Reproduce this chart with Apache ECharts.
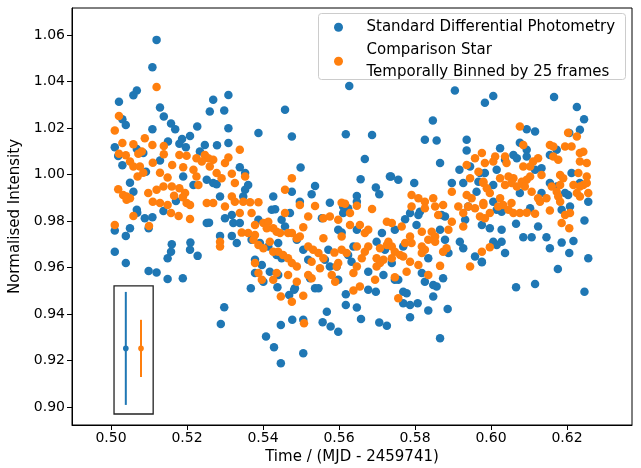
<!DOCTYPE html>
<html><head><meta charset="utf-8">
<script src="https://cdn.jsdelivr.net/npm/echarts@6/dist/echarts.min.js"></script>
<style>html,body{margin:0;padding:0;background:#fff}#c{width:641px;height:468px}</style>
</head><body><div id="c"></div>
<script>
// [time (MJD - 2459741), normalised intensity]
const bluePoints = [
[0.5120,1.0579],[0.5109,1.0461],[0.5068,1.0361],[0.5059,1.0341],[0.5021,1.0313],[0.5129,1.0288],[0.5139,1.0249],[0.5030,1.0238],
[0.5039,1.0213],[0.5158,1.0219],[0.5169,1.0195],[0.5109,1.0195],[0.5227,1.0206],[0.5208,1.0166],[0.5187,1.0153],[0.5180,1.0132],
[0.5150,1.0142],[0.5010,1.0117],[0.5068,1.0110],[0.5197,1.0117],[0.5019,1.0080],[0.5030,1.0040],[0.5129,1.0060],[0.5085,1.0092],
[0.5092,1.0012],[0.5190,0.9991],[0.5050,0.9965],[0.5059,0.9926],[0.5217,0.9955],[0.5171,0.9886],[0.5068,0.9848],[0.5069,0.9836],
[0.5089,0.9812],[0.5109,0.9816],[0.5138,0.9843],[0.5010,0.9759],[0.5050,0.9769],[0.5039,0.9736],[0.5099,0.9769],[0.5160,0.9700],
[0.5209,0.9707],[0.5158,0.9668],[0.5149,0.9640],[0.5208,0.9676],[0.5228,0.9650],[0.5010,0.9668],[0.5039,0.9619],[0.5099,0.9585],
[0.5120,0.9578],[0.5149,0.9551],[0.5189,0.9554],[0.5309,1.0342],[0.5269,1.0321],[0.5260,1.0271],[0.5298,1.0275],[0.5458,1.0278],
[0.5309,1.0199],[0.5388,1.0178],[0.5476,1.0163],[0.5247,1.0127],[0.5279,1.0126],[0.5309,1.0135],[0.5234,1.0099],[0.5339,1.0031],
[0.5353,1.0006],[0.5361,0.9955],[0.5353,0.9934],[0.5269,0.9963],[0.5278,0.9958],[0.5287,0.9905],[0.5427,0.9905],[0.5476,0.9926],
[0.5348,0.9905],[0.5252,0.9977],[0.5252,0.9791],[0.5258,0.9793],[0.5300,0.9812],[0.5318,0.9826],[0.5322,0.9791],[0.5339,0.9791],
[0.5287,0.9736],[0.5318,0.9736],[0.5331,0.9705],[0.5370,0.9719],[0.5388,0.9805],[0.5423,0.9848],[0.5432,0.9851],[0.5449,0.9805],
[0.5458,0.9776],[0.5471,0.9834],[0.5392,0.9705],[0.5414,0.9690],[0.5440,0.9705],[0.5436,0.9654],[0.5449,0.9640],[0.5379,0.9633],
[0.5397,0.9611],[0.5379,0.9576],[0.5418,0.9582],[0.5440,0.9568],[0.5401,0.9539],[0.5368,0.9511],[0.5438,0.9515],[0.5469,0.9482],
[0.5482,0.9504],[0.5298,0.9429],[0.5289,0.9357],[0.5447,0.9353],[0.5477,0.9375],[0.5408,0.9303],[0.5429,0.9257],[0.5447,0.9188],
[0.5627,1.0381],[0.5618,1.0173],[0.5687,1.0170],[0.5668,1.0067],[0.5499,1.0030],[0.5657,0.9980],[0.5734,0.9991],[0.5537,0.9951],
[0.5528,0.9915],[0.5697,0.9944],[0.5706,0.9915],[0.5647,0.9908],[0.5576,0.9879],[0.5497,0.9883],[0.5611,0.9862],[0.5624,0.9855],
[0.5647,0.9883],[0.5611,0.9834],[0.5555,0.9812],[0.5598,0.9762],[0.5607,0.9750],[0.5647,0.9762],[0.5713,0.9748],[0.5489,0.9719],
[0.5506,0.9676],[0.5519,0.9633],[0.5572,0.9676],[0.5563,0.9633],[0.5576,0.9604],[0.5594,0.9604],[0.5598,0.9547],[0.5638,0.9690],
[0.5624,0.9654],[0.5633,0.9625],[0.5699,0.9711],[0.5717,0.9568],[0.5677,0.9582],[0.5677,0.9504],[0.5697,0.9496],[0.5524,0.9554],
[0.5537,0.9511],[0.5546,0.9511],[0.5484,0.9511],[0.5618,0.9485],[0.5618,0.9439],[0.5647,0.9428],[0.5568,0.9410],[0.5658,0.9378],
[0.5506,0.9375],[0.5557,0.9365],[0.5578,0.9346],[0.5598,0.9324],[0.5706,0.9363],[0.5726,0.9349],[0.5506,0.9231],[0.5905,1.0361],
[0.5984,1.0309],[0.5847,1.0232],[0.5826,1.0149],[0.5857,1.0146],[0.5936,1.0149],[0.5936,1.0103],[0.5866,1.0049],[0.5917,1.0020],
[0.5945,1.0034],[0.5737,0.9991],[0.5756,0.9977],[0.5798,0.9963],[0.5897,0.9963],[0.5927,0.9963],[0.5962,0.9926],[0.5967,0.9969],
[0.5984,1.0006],[0.5787,0.9834],[0.5809,0.9826],[0.5813,0.9840],[0.5804,0.9783],[0.5774,0.9808],[0.5747,0.9762],[0.5870,0.9826],
[0.5879,0.9819],[0.5940,0.9862],[0.5932,0.9805],[0.5976,0.9783],[0.5866,0.9762],[0.5879,0.9719],[0.5888,0.9662],[0.5918,0.9711],
[0.5927,0.9683],[0.5958,0.9647],[0.5976,0.9625],[0.5721,0.9676],[0.5739,0.9619],[0.5769,0.9690],[0.5835,0.9640],[0.5818,0.9576],
[0.5826,0.9539],[0.5848,0.9525],[0.5857,0.9518],[0.5747,0.9547],[0.5756,0.9547],[0.5874,0.9554],[0.5769,0.9496],[0.5778,0.9489],
[0.5848,0.9475],[0.5769,0.9446],[0.5787,0.9439],[0.5807,0.9446],[0.5835,0.9415],[0.5886,0.9421],[0.5787,0.9386],[0.5866,0.9296],
[0.6006,1.0338],[0.6166,1.0333],[0.6226,1.0290],[0.6245,1.0238],[0.6094,1.0195],[0.6116,1.0185],[0.6234,1.0192],[0.6206,1.0178],
[0.6076,1.0137],[0.6094,1.0106],[0.6094,1.0077],[0.6024,1.0113],[0.6059,1.0084],[0.6068,1.0070],[0.6037,1.0063],[0.6173,1.0106],
[0.6155,1.0084],[0.5971,1.0006],[0.6015,1.0020],[0.6116,1.0020],[0.6133,1.0027],[0.6212,1.0006],[0.6006,0.9955],[0.6076,0.9920],
[0.6155,0.9963],[0.6173,0.9948],[0.6195,0.9920],[0.6203,0.9912],[0.6234,0.9963],[0.6256,0.9883],[0.6133,0.9920],[0.6103,0.9855],
[0.6208,0.9862],[0.6006,0.9883],[0.6015,0.9848],[0.6028,0.9840],[0.5997,0.9769],[0.6028,0.9762],[0.6066,0.9788],[0.6124,0.9776],
[0.6186,0.9848],[0.6006,0.9711],[0.6015,0.9697],[0.6028,0.9711],[0.6037,0.9662],[0.6085,0.9730],[0.6107,0.9730],[0.6146,0.9730],
[0.6155,0.9683],[0.6186,0.9707],[0.6217,0.9714],[0.6206,0.9662],[0.6246,0.9802],[0.6256,0.9640],[0.5976,0.9623],[0.6176,0.9594],
[0.6066,0.9515],[0.6116,0.9529],[0.6246,0.9496]
];
const orangePoints = [
[0.5120,1.0376],[0.5021,1.0252],[0.5010,1.0189],[0.5030,1.0135],[0.5089,1.0156],[0.5059,1.0130],[0.5109,1.0127],[0.5139,1.0123],
[0.5139,1.0087],[0.5081,1.0099],[0.5072,1.0089],[0.5021,1.0089],[0.5039,1.0083],[0.5180,1.0084],[0.5199,1.0081],[0.5225,1.0070],
[0.5050,1.0056],[0.5059,1.0034],[0.5076,1.0034],[0.5110,1.0051],[0.5161,1.0041],[0.5190,1.0031],[0.5085,1.0008],[0.5129,1.0008],
[0.5070,0.9991],[0.5217,1.0020],[0.5225,0.9991],[0.5149,0.9987],[0.5019,0.9937],[0.5032,0.9912],[0.5041,0.9905],[0.5050,0.9898],
[0.5098,0.9920],[0.5120,0.9934],[0.5138,0.9948],[0.5160,0.9948],[0.5180,0.9941],[0.5166,0.9909],[0.5195,0.9920],[0.5189,0.9902],
[0.5110,0.9883],[0.5129,0.9877],[0.5149,0.9869],[0.5199,0.9877],[0.5208,0.9869],[0.5041,0.9891],[0.5059,0.9822],[0.5158,0.9834],
[0.5178,0.9822],[0.5208,0.9809],[0.5010,0.9783],[0.5100,0.9779],[0.5339,1.0106],[0.5247,1.0084],[0.5256,1.0070],[0.5269,1.0063],
[0.5239,1.0056],[0.5309,1.0073],[0.5300,1.0049],[0.5260,1.0034],[0.5278,1.0006],[0.5291,0.9984],[0.5318,1.0003],[0.5326,0.9963],
[0.5353,0.9991],[0.5230,0.9955],[0.5476,0.9984],[0.5458,0.9934],[0.5318,0.9905],[0.5326,0.9883],[0.5348,0.9883],[0.5366,0.9881],
[0.5388,0.9881],[0.5252,0.9877],[0.5269,0.9877],[0.5300,0.9862],[0.5339,0.9834],[0.5370,0.9834],[0.5458,0.9834],[0.5287,0.9711],
[0.5287,0.9690],[0.5344,0.9750],[0.5361,0.9748],[0.5379,0.9740],[0.5375,0.9719],[0.5379,0.9783],[0.5401,0.9791],[0.5414,0.9797],
[0.5410,0.9769],[0.5427,0.9769],[0.5436,0.9754],[0.5445,0.9748],[0.5466,0.9748],[0.5388,0.9697],[0.5401,0.9683],[0.5418,0.9711],
[0.5427,0.9668],[0.5440,0.9668],[0.5453,0.9654],[0.5466,0.9640],[0.5379,0.9619],[0.5388,0.9576],[0.5397,0.9547],[0.5427,0.9547],
[0.5436,0.9576],[0.5466,0.9568],[0.5447,0.9475],[0.5476,0.9453],[0.5476,0.9619],[0.5497,0.9869],[0.5537,0.9865],[0.5607,0.9879],
[0.5616,0.9874],[0.5647,0.9866],[0.5687,0.9852],[0.5629,0.9834],[0.5519,0.9819],[0.5559,0.9812],[0.5576,0.9819],[0.5598,0.9805],
[0.5629,0.9783],[0.5655,0.9783],[0.5506,0.9773],[0.5476,0.9748],[0.5489,0.9726],[0.5497,0.9733],[0.5559,0.9726],[0.5607,0.9733],
[0.5668,0.9748],[0.5677,0.9762],[0.5726,0.9797],[0.5519,0.9690],[0.5532,0.9676],[0.5546,0.9662],[0.5559,0.9640],[0.5528,0.9625],
[0.5588,0.9664],[0.5607,0.9676],[0.5620,0.9662],[0.5489,0.9604],[0.5550,0.9597],[0.5598,0.9619],[0.5594,0.9604],[0.5647,0.9690],
[0.5660,0.9640],[0.5668,0.9668],[0.5677,0.9690],[0.5647,0.9604],[0.5699,0.9640],[0.5708,0.9619],[0.5717,0.9633],[0.5699,0.9604],
[0.5708,0.9683],[0.5726,0.9697],[0.5519,0.9568],[0.5528,0.9554],[0.5581,0.9568],[0.5590,0.9539],[0.5489,0.9539],[0.5638,0.9576],
[0.5695,0.9547],[0.5655,0.9518],[0.5638,0.9501],[0.5506,0.9478],[0.5508,0.9360],[0.5958,1.0070],[0.5976,1.0092],[0.5936,1.0041],
[0.5967,1.0012],[0.5945,0.9984],[0.5980,0.9969],[0.5897,0.9926],[0.5936,0.9912],[0.5949,0.9898],[0.5809,0.9898],[0.5826,0.9883],
[0.5848,0.9898],[0.5874,0.9869],[0.5791,0.9862],[0.5914,0.9862],[0.5940,0.9862],[0.5791,0.9912],[0.5826,0.9855],[0.5853,0.9862],
[0.5861,0.9826],[0.5927,0.9834],[0.5958,0.9855],[0.5980,0.9869],[0.5739,0.9791],[0.5765,0.9776],[0.5897,0.9797],[0.5927,0.9776],
[0.5888,0.9762],[0.5818,0.9754],[0.5844,0.9754],[0.5853,0.9733],[0.5835,0.9719],[0.5853,0.9711],[0.5787,0.9733],[0.5774,0.9705],
[0.5791,0.9705],[0.5730,0.9711],[0.5739,0.9690],[0.5747,0.9668],[0.5761,0.9654],[0.5769,0.9647],[0.5739,0.9640],[0.5818,0.9690],
[0.5826,0.9676],[0.5818,0.9662],[0.5874,0.9668],[0.5883,0.9683],[0.5787,0.9625],[0.5809,0.9611],[0.5976,0.9668],[0.5866,0.9607],
[0.5945,0.9604],[0.5778,0.9582],[0.5835,0.9568],[0.5747,0.9558],[0.5756,0.9468],[0.6076,1.0206],[0.6085,1.0127],[0.6203,1.0180],
[0.6226,1.0163],[0.6155,1.0127],[0.6164,1.0120],[0.6195,1.0120],[0.6212,1.0120],[0.6234,1.0092],[0.6243,1.0098],[0.6011,1.0077],
[0.6006,1.0056],[0.5984,1.0049],[0.6037,1.0077],[0.6041,1.0049],[0.6124,1.0070],[0.6111,1.0056],[0.6164,1.0077],[0.6177,1.0063],
[0.6234,1.0056],[0.6252,1.0049],[0.6085,1.0034],[0.6103,1.0034],[0.6133,0.9998],[0.6103,0.9991],[0.6094,0.9977],[0.6081,0.9969],
[0.6182,0.9998],[0.6190,0.9984],[0.6230,1.0006],[0.6252,0.9991],[0.6024,0.9984],[0.6046,0.9991],[0.6059,0.9984],[0.6037,0.9955],
[0.6054,0.9963],[0.6068,0.9948],[0.5980,0.9963],[0.5989,0.9941],[0.5997,0.9920],[0.6107,0.9926],[0.6089,0.9948],[0.6160,0.9948],
[0.6182,0.9955],[0.6173,0.9926],[0.6217,0.9955],[0.6234,0.9948],[0.6243,0.9955],[0.6024,0.9898],[0.6032,0.9869],[0.6054,0.9877],
[0.6124,0.9898],[0.6129,0.9883],[0.6146,0.9898],[0.6177,0.9905],[0.6182,0.9883],[0.6226,0.9920],[0.6234,0.9905],[0.6252,0.9963],
[0.6256,0.9920],[0.5980,0.9877],[0.6019,0.9862],[0.5997,0.9834],[0.5984,0.9812],[0.5971,0.9819],[0.6046,0.9848],[0.6059,0.9834],
[0.6076,0.9834],[0.6094,0.9836],[0.6116,0.9831],[0.6155,0.9845],[0.6195,0.9826],[0.6208,0.9834],[0.6186,0.9791],[0.6206,0.9769],
[0.5997,0.9687]
];
const seriesNames = ['Standard Differential Photometry', 'Comparison Star\nTemporally Binned by 25 frames'];
const xTicks = [0.50, 0.52, 0.54, 0.56, 0.58, 0.60, 0.62];
const yTicks = [0.90, 0.92, 0.94, 0.96, 0.98, 1.00, 1.02, 1.04, 1.06];
const xRange = [0.48974, 0.63711];
const yRange = [0.89226, 1.07161];
// inset: typical error bars (time, centre, half-length)
const errTime = [0.5039, 0.5079];
const errCentre = [0.9252, 0.9252];
const errHalf = [0.0243, 0.0123];
const insetBox = [0.5008, 0.8970, 0.5111, 0.9521];

const colors = ['#1f77b4', '#ff7f0e'];
const FONT = 'DejaVu Sans';
const chart = echarts.init(document.getElementById('c'), null, {renderer: 'canvas'});

const errData = errTime.map((t, i) => [t, errCentre[i], errHalf[i], i]);

chart.setOption({
  animation: false,
  backgroundColor: '#fff',
  textStyle: {fontFamily: FONT, color: '#000'},
  grid: {left: 72, right: 9, top: 8, bottom: 43, show: true, borderColor: '#000', borderWidth: 1,
         backgroundColor: 'transparent', containLabel: false, outerBoundsMode: 'none'},
  xAxis: {
    type: 'value', min: xRange[0], max: xRange[1],
    name: 'Time / (MJD - 2459741)', nameLocation: 'middle', nameGap: 22,
    nameTextStyle: {fontFamily: FONT, fontSize: 15, color: '#000', verticalAlign: 'top'},
    axisLine: {show: true, onZero: false, lineStyle: {color: '#000', width: 1}},
    axisTick: {show: true, inside: false, length: 5, lineStyle: {color: '#000', width: 1}, customValues: xTicks},
    axisLabel: {show: true, margin: 6, fontFamily: FONT, fontSize: 14, color: '#000', customValues: xTicks,
      formatter: v => v.toFixed(2)},
    splitLine: {show: false}
  },
  yAxis: {
    type: 'value', min: yRange[0], max: yRange[1],
    name: 'Normalised Intensity', nameLocation: 'middle', nameGap: 37,
    nameTextStyle: {fontFamily: FONT, fontSize: 15, color: '#000'},
    axisLine: {show: true, onZero: false, lineStyle: {color: '#000', width: 1}},
    axisTick: {show: true, inside: false, length: 5, lineStyle: {color: '#000', width: 1}, customValues: yTicks},
    axisLabel: {show: true, margin: 7, fontFamily: FONT, fontSize: 14, color: '#000', customValues: yTicks,
      formatter: v => v.toFixed(2)},
    splitLine: {show: false}
  },
  legend: {
    show: true, orient: 'vertical', left: 334, top: 16, padding: 0, itemGap: 0,
    itemWidth: 46, itemHeight: 9, icon: 'circle',
    data: seriesNames,
    textStyle: {fontFamily: FONT, fontSize: 15, color: '#000', lineHeight: 22.6},
    z: 5
  },
  graphic: [{
    type: 'rect', z: 4, left: 318, top: 13,
    shape: {width: 307, height: 66, r: 3},
    style: {fill: 'rgba(255,255,255,0.8)', stroke: '#cccccc', lineWidth: 1}
  }],
  series: [
    {type: 'scatter', name: seriesNames[0], data: bluePoints, symbol: 'circle', symbolSize: 8.5,
     itemStyle: {color: colors[0], opacity: 1}, emphasis: {disabled: true}, z: 2},
    {type: 'scatter', name: seriesNames[1], data: orangePoints, symbol: 'circle', symbolSize: 8.5,
     itemStyle: {color: colors[1], opacity: 1}, emphasis: {disabled: true}, z: 2},
    {type: 'custom', name: 'insetBox', data: [insetBox], z: 3, clip: false,
     encode: {x: [0, 2], y: [1, 3]},
     renderItem: (params, api) => {
       const p0 = api.coord([api.value(0), api.value(3)]);
       const p1 = api.coord([api.value(2), api.value(1)]);
       return {type: 'rect', shape: {x: p0[0], y: p0[1], width: p1[0] - p0[0], height: p1[1] - p0[1]},
               style: {fill: 'none', stroke: '#222', lineWidth: 1.3}};
     }},
    {type: 'custom', name: 'errorbars', data: errData, z: 3, clip: false,
     encode: {x: 0, y: 1},
     renderItem: (params, api) => {
       const t = api.value(0), c = api.value(1), h = api.value(2), k = api.value(3);
       const top = api.coord([t, c + h]), bot = api.coord([t, c - h]), mid = api.coord([t, c]);
       return {type: 'group', children: [
         {type: 'line', shape: {x1: top[0], y1: top[1], x2: bot[0], y2: bot[1]}, style: {stroke: colors[k], lineWidth: 2}},
         {type: 'circle', shape: {cx: mid[0], cy: mid[1], r: 2.8}, style: {fill: colors[k]}}
       ]};
     }}
  ]
});
</script>
</body></html>
